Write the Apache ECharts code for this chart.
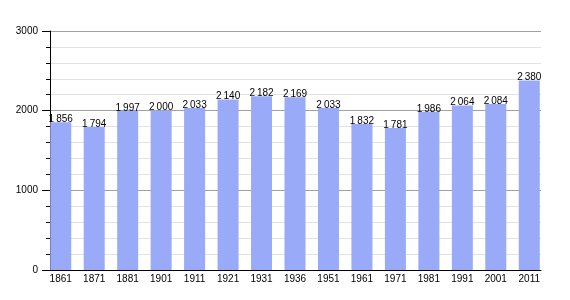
<!DOCTYPE html>
<html><head><meta charset="utf-8">
<script src="https://cdn.jsdelivr.net/npm/echarts@6/dist/echarts.min.js"></script>
<style>html,body{margin:0;padding:0;background:#fff}#c{width:570px;height:300px}</style>
</head><body><div id="c"></div>
<script>
const years = ['1861','1871','1881','1901','1911','1921','1931','1936','1951','1961','1971','1981','1991','2001','2011'];
const population = [1856,1794,1997,2000,2033,2140,2182,2169,2033,1832,1781,1986,2064,2084,2380];
const yTicks = [0,1000,2000,3000];

const fmt = v => { const s = String(v); return s.length > 3 ? s.slice(0, s.length-3) + '\u2009' + s.slice(-3) : s; };
const font = 'Liberation Sans, Arial, sans-serif';
const chart = echarts.init(document.getElementById('c'));
chart.setOption({
  animation: false,
  grid: [
    {left: 50, right: 29, top: 31, bottom: 30},
    {left: 44, width: 502, top: 31, bottom: 30}
  ],
  xAxis: [
    {gridIndex: 0, type: 'category', data: years, boundaryGap: true,
     axisLine: {show: true, lineStyle: {color: '#000', width: 1}}, axisTick: {show: false}, axisLabel: {show: false}},
    {gridIndex: 1, type: 'category', data: years,
     axisLine: {show: false}, axisTick: {show: false},
     axisLabel: {color: '#000', fontSize: 10, fontFamily: font, margin: 4}}
  ],
  yAxis: [
    {gridIndex: 0, type: 'value', min: yTicks[0], max: yTicks[yTicks.length-1], interval: 1000,
     axisLine: {show: true, lineStyle: {color: '#000', width: 1}},
     axisTick: {show: true, length: 8, lineStyle: {color: '#000'}},
     minorTick: {show: true, splitNumber: 5, length: 4, lineStyle: {color: '#000'}},
     axisLabel: {color: '#000', fontSize: 10, fontFamily: font, margin: 12, formatter: v => String(v)},
     splitLine: {show: true, lineStyle: {color: '#a0a0a0', width: 1}},
     minorSplitLine: {show: true, lineStyle: {color: '#e2e2e2', width: 1}}},
    {gridIndex: 1, type: 'value', min: yTicks[0], max: yTicks[yTicks.length-1], show: false}
  ],
  series: [
    {type: 'bar', xAxisIndex: 1, yAxisIndex: 1, data: population, barWidth: 21,
     itemStyle: {color: '#98aaf8'},
     label: {show: true, position: 'top', distance: -2, color: '#000', fontSize: 10, fontFamily: font,
             formatter: p => fmt(p.value)}}
  ]
});
</script></body></html>
